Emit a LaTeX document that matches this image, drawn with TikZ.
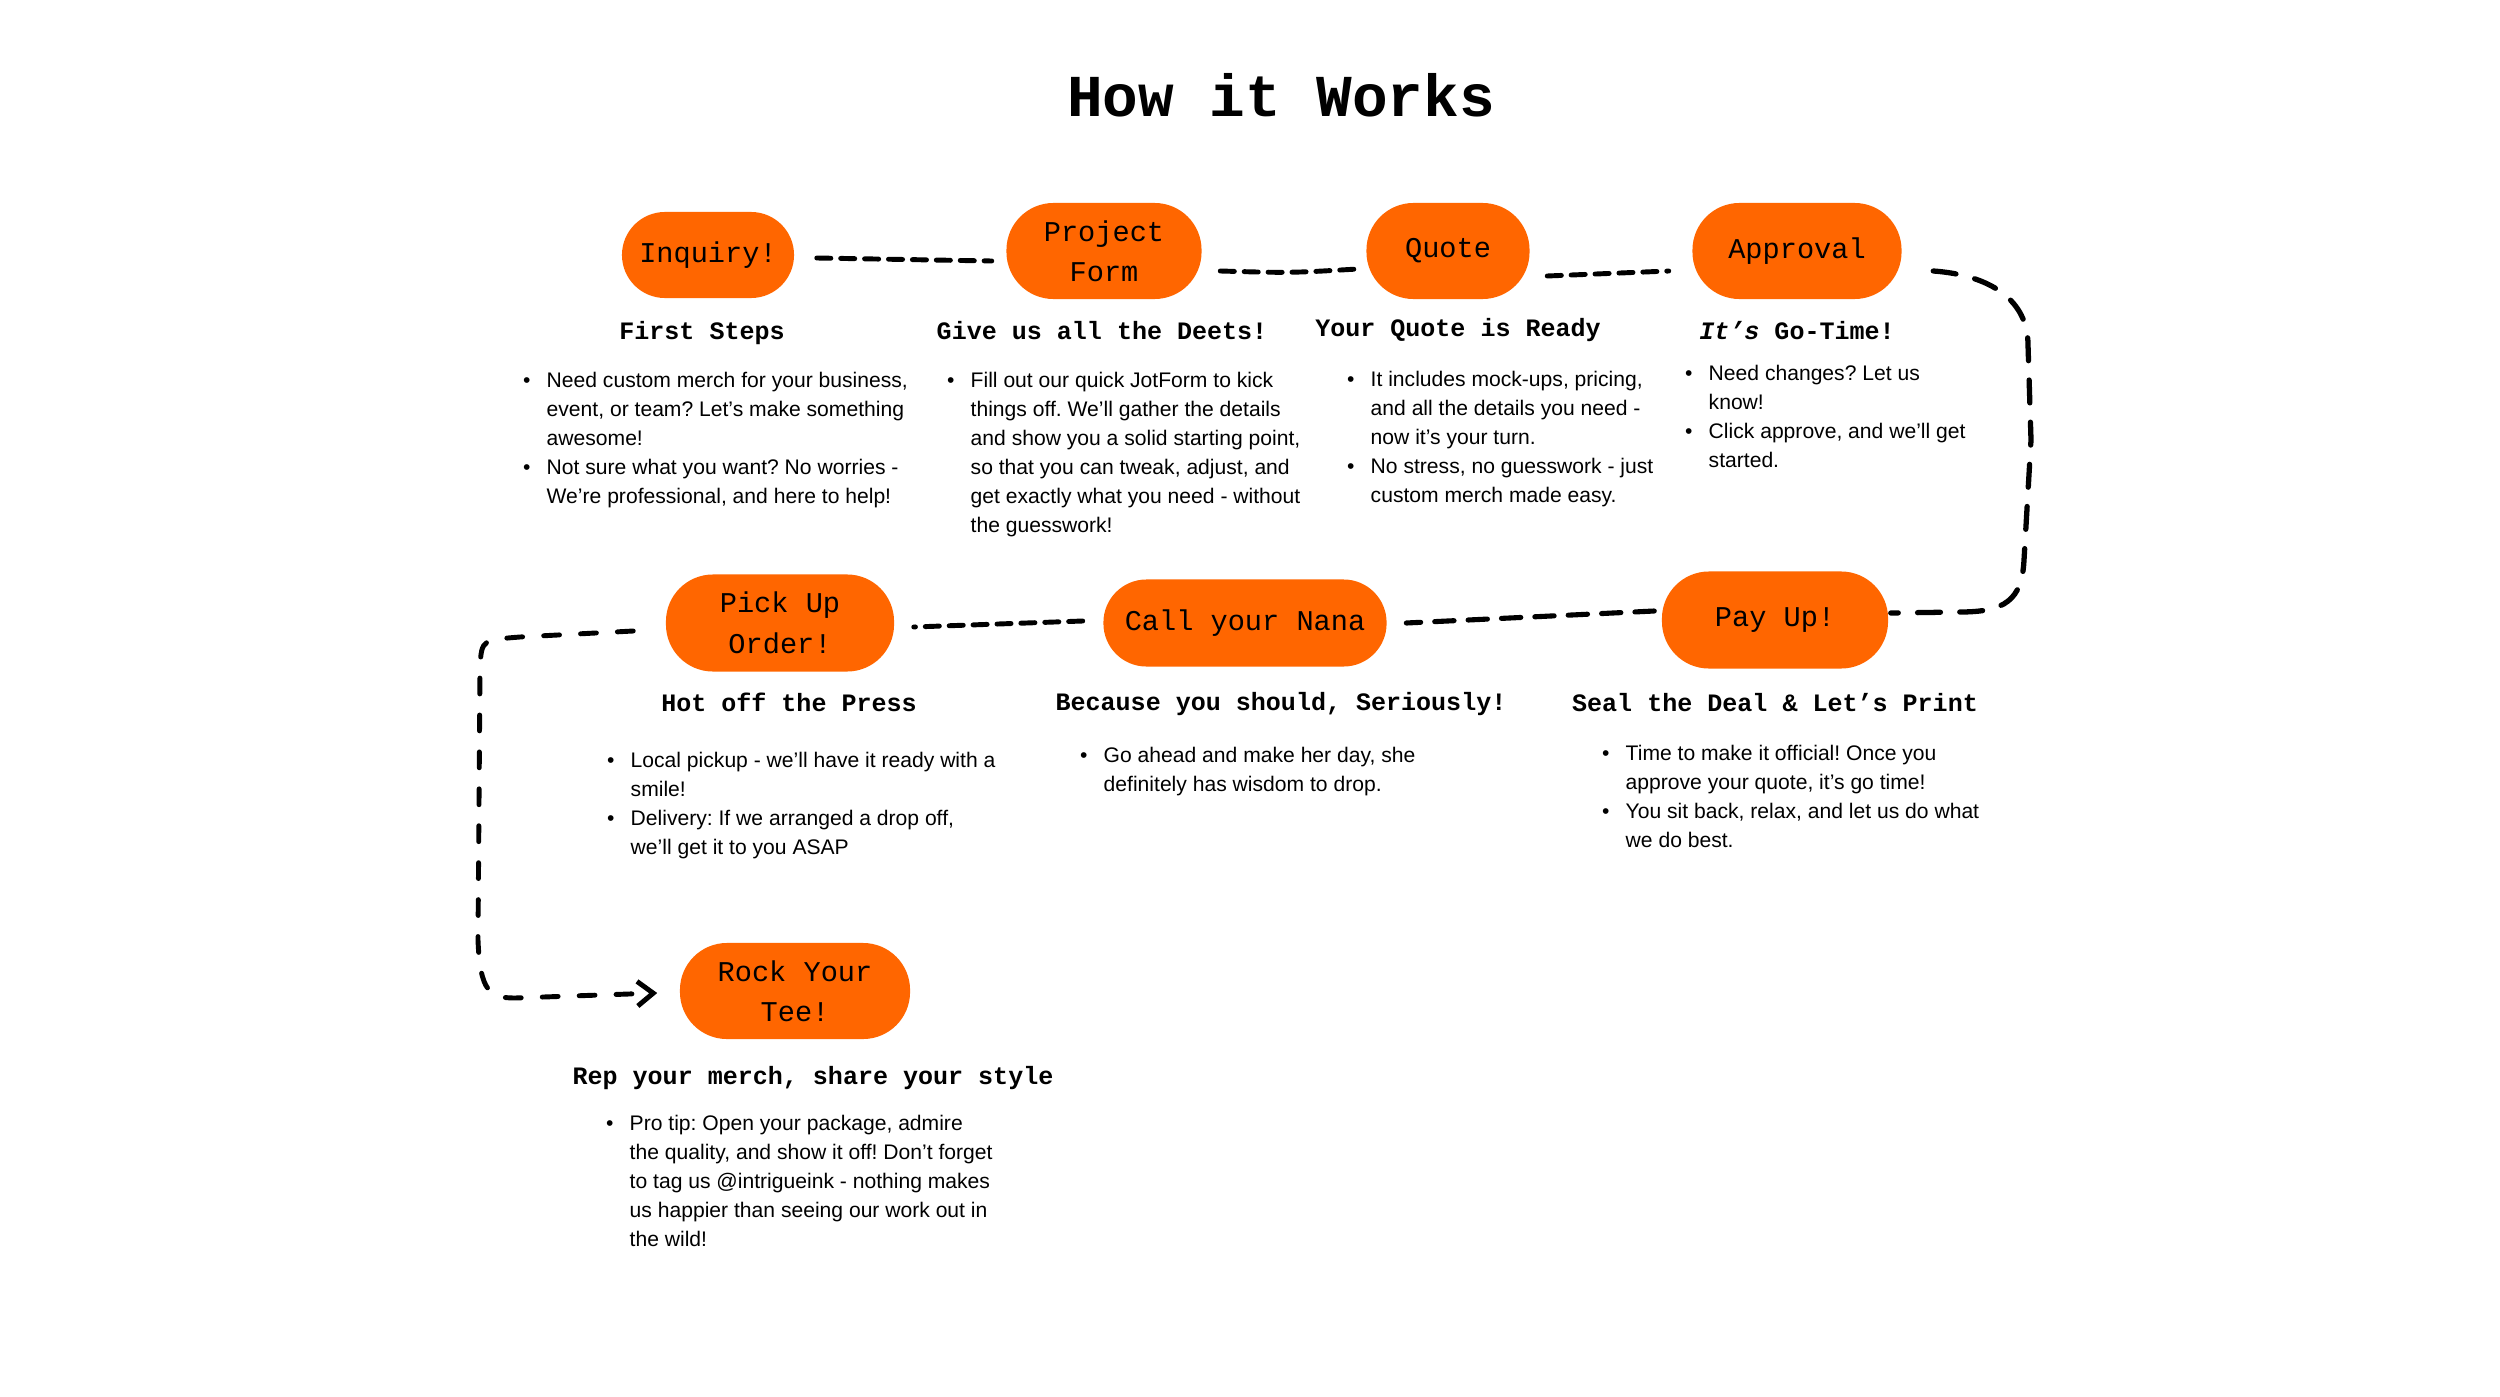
\documentclass[tikz,border=0pt]{standalone}
\usepackage{fontspec}
\setmainfont{Liberation Sans}
\newfontfamily\monof{Liberation Mono}
\usetikzlibrary{shapes.misc,arrows.meta}
\definecolor{bubble}{RGB}{255,102,0}
\newcommand{\bul}{\leavevmode\llap{\textbullet\hspace{4.6pt}}}
\newcommand{\blocktext}[1]{\parbox[t]{9cm}{\fontsize{6pt}{8.25pt}\selectfont\frenchspacing\raggedright #1}}
\tikzset{
  stage/.style={rectangle, rounded corners=0.47cm, fill=bubble, inner sep=0pt,
    font=\monof\fontsize{8.14pt}{11.5pt}\selectfont, align=center},
  heading/.style={anchor=base, inner sep=0pt, font=\monof\bfseries\fontsize{7.12pt}{9pt}\selectfont},
  body/.style={anchor=base west, inner sep=0pt},
  conn/.style={line width=1.4pt, line cap=round, dash pattern=on 4pt off 2.8pt},
  connlong/.style={line width=1.5pt, line cap=round, dash pattern=on 6.5pt off 5.5pt},
  connmid/.style={line width=1.45pt, line cap=round, dash pattern=on 5.5pt off 4pt},
  connleft/.style={line width=1.4pt, line cap=round, dash pattern=on 4.5pt off 6pt},
}
\begin{document}
\begin{tikzpicture}[x=0.01cm,y=-0.01cm]
\fill[white] (0,0) rectangle (2500,1397);
\useasboundingbox (0,0) rectangle (2500,1397);

\node[anchor=base, inner sep=0pt, font=\monof\bfseries\fontsize{16.9pt}{20pt}\selectfont] (title) at (1281,117) {How it Works};

% stages
\node[stage, rounded corners=0.43cm, minimum width=1.72cm, minimum height=0.86cm] (inq) at (708,255) {Inquiry!};
\node[stage, minimum width=1.95cm, minimum height=0.96cm] (pf) at (1104,251) {Project\\Form};
\node[stage, minimum width=1.63cm, minimum height=0.96cm] (quote) at (1448,251) {Quote};
\node[stage, minimum width=2.09cm, minimum height=0.96cm] (appr) at (1797,251) {Approval};
\node[stage, minimum width=2.26cm, minimum height=0.97cm] (pay) at (1775,620) {Pay Up!};
\node[stage, rounded corners=0.43cm, minimum width=2.83cm, minimum height=0.87cm] (nana) at (1245,623) {Call your Nana};
\node[stage, minimum width=2.28cm, minimum height=0.97cm] (pick) at (780,623) {Pick Up\\Order!};
\node[stage, minimum width=2.30cm, minimum height=0.96cm] (rock) at (795,991) {Rock Your\\Tee!};

% headings
\node[heading] (h1) at (702,339) {First Steps};
\node[heading] (h2) at (1102,339) {Give us all the Deets!};
\node[heading] (h3) at (1458,336) {Your Quote is Ready};
\node[heading] (h4) at (1797,339) {\textit{It’s} Go-Time!};
\node[heading] (h5) at (789,711) {Hot off the Press};
\node[heading] (h6) at (1281,710) {Because you should, Seriously!};
\node[heading] (h7) at (1775,711) {Seal the Deal \& Let’s Print};
\node[heading] (h8) at (813,1084) {Rep your merch, share your style};

% body texts
\node[body] (b1) at (546,387) {\blocktext{\bul Need custom merch for your business,\\event, or team? Let’s make something\\awesome!\\\bul Not sure what you want? No worries -\\We’re professional, and here to help!}};
\node[body] (b2) at (970,387) {\blocktext{\bul Fill out our quick JotForm to kick\\things off. We’ll gather the details\\and show you a solid starting point,\\so that you can tweak, adjust, and\\get exactly what you need - without\\the guesswork!}};
\node[body] (b3) at (1370,386) {\blocktext{\bul It includes mock-ups, pricing,\\and all the details you need -\\now it’s your turn.\\\bul No stress, no guesswork - just\\custom merch made easy.}};
\node[body] (b4) at (1708,380.5) {\blocktext{\bul Need changes? Let us\\know!\\\bul Click approve, and we’ll get\\started.}};
\node[body] (b5) at (630,767.5) {\blocktext{\bul Local pickup - we’ll have it ready with a\\smile!\\\bul Delivery: If we arranged a drop off,\\we’ll get it to you ASAP}};
\node[body] (b6) at (1103,762) {\blocktext{\bul Go ahead and make her day, she\\definitely has wisdom to drop.}};
\node[body] (b7) at (1625,760.5) {\blocktext{\bul Time to make it official! Once you\\approve your quote, it’s go time!\\\bul You sit back, relax, and let us do what\\we do best.}};
\node[body] (b8) at (629,1130.5) {\blocktext{\bul Pro tip: Open your package, admire\\the quality, and show it off! Don’t forget\\to tag us @intrigueink - nothing makes\\us happier than seeing our work out in\\the wild!}};

% connectors
\draw[conn] ([shift={(22,3)}]inq.east) -- ([shift={(-14,10)}]pf.west);
\draw[conn] ([shift={(18,20)}]pf.east) .. controls (1290,273) .. ([shift={(-8,18)}]quote.west);
\draw[conn] ([shift={(17,25)}]quote.east) -- ([shift={(-23,20)}]appr.west);
\draw[connlong] ([shift={(31,20)}]appr.east) .. controls (1990,275) and (2028,300) .. (2028,345)
  -- (2031,440) -- (2024,560) .. controls (2022,600) and (2005,612) .. (1960,612)
  -- ([shift={(2,-7)}]pay.east);
\draw[connmid] ([shift={(-7,-9)}]pay.west) -- ([shift={(19,0)}]nana.east);
\draw[conn] ([shift={(-20,-2)}]nana.west) -- ([shift={(19,4)}]pick.east);
\draw[connleft, -{Straight Barb[length=4.5pt,width=7pt]}] ([shift={(-32,8)}]pick.west) -- (520,637)
  .. controls (482,640) .. (480,665) -- (478,940)
  .. controls (480,992) and (490,998) .. (515,998) -- ([shift={(-22,2)}]rock.west);
\end{tikzpicture}
\end{document}
